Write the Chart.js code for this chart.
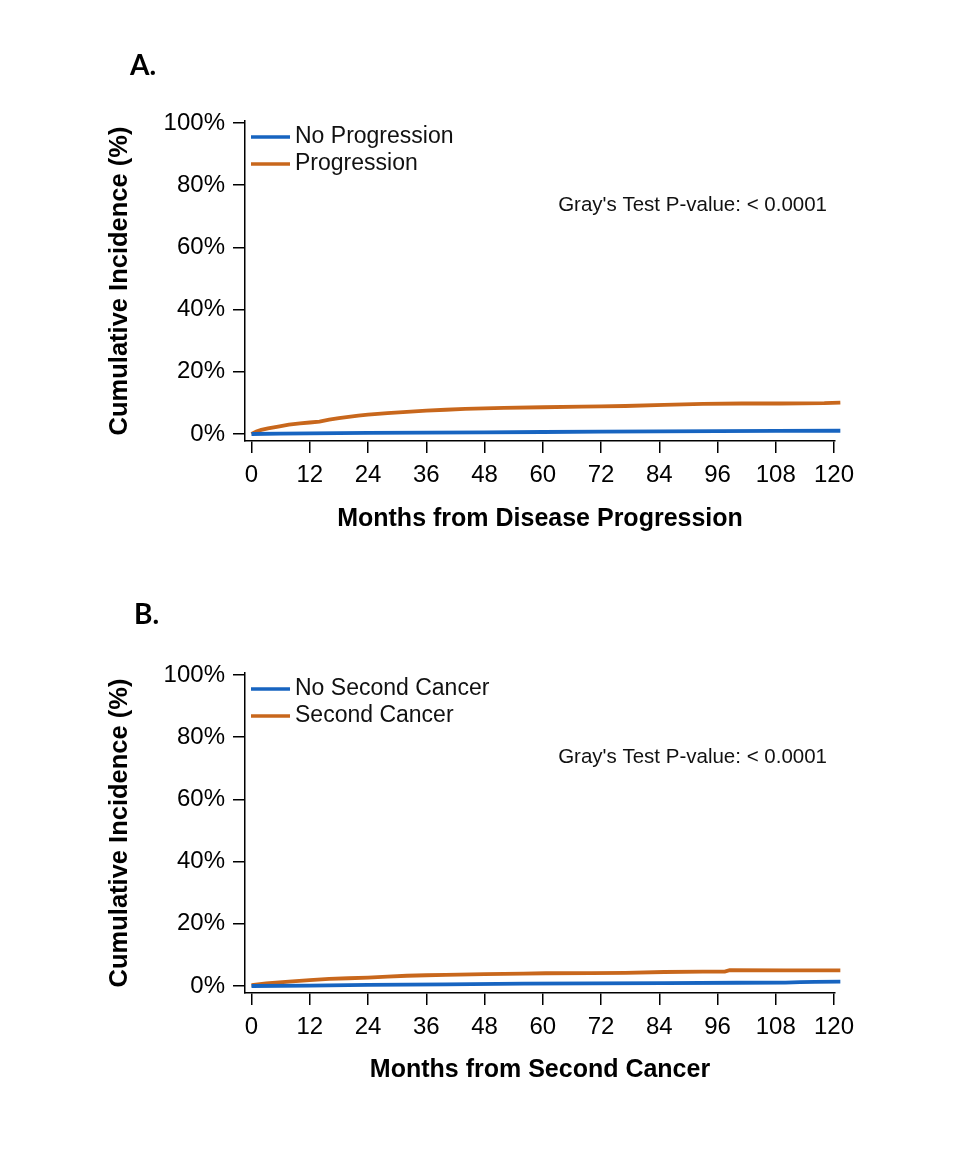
<!DOCTYPE html>
<html>
<head>
<meta charset="utf-8">
<title>Cumulative Incidence</title>
<script src="https://cdn.jsdelivr.net/npm/chart.js@4.4.0/dist/chart.umd.min.js"></script>
<style>
  body { margin: 0; background: #fff; width: 960px; height: 1152px; position: relative; overflow: hidden; }
  canvas { position: absolute; left: 0; }
  .panel { position: absolute; font: bold 28px Lato, "Open Sans", sans-serif; line-height: 30px; color: #000; }
</style>
</head>
<body>
<canvas id="chartA" width="960" height="560" style="top:0"></canvas>
<canvas id="chartB" width="960" height="592" style="top:560px"></canvas>
<div class="panel" style="left:130px;top:49px">A.</div>
<div class="panel" style="left:134px;top:598px">B.</div>
<script>
const xTicks = [0, 12, 24, 36, 48, 60, 72, 84, 96, 108, 120];
const yTicks = [0, 20, 40, 60, 80, 100];

// panel A
const monthsNoProg = [0, 6, 12, 24, 36, 48, 60, 72, 84, 96, 108, 121.3];
const incNoProg    = [0, 0.1, 0.2, 0.35, 0.45, 0.55, 0.65, 0.75, 0.85, 0.95, 1.0, 1.05];
const monthsProg = [0, 1, 2, 3.4, 5.5, 7.7, 10, 12, 14, 16, 18, 20, 22, 24, 28, 32, 36, 40, 44, 52, 60, 68, 72, 77, 85, 93, 101, 109, 118, 121.3];
const incProg    = [0, 0.8, 1.3, 1.8, 2.4, 3.0, 3.4, 3.7, 4.0, 4.6, 5.1, 5.5, 5.9, 6.2, 6.7, 7.1, 7.5, 7.8, 8.1, 8.4, 8.6, 8.8, 8.9, 9.0, 9.35, 9.7, 9.8, 9.8, 9.9, 10.1];

// panel B
const monthsNoSecond = [0, 12, 24, 40, 56, 70, 85, 100, 110, 113, 116, 121.3];
const incNoSecond    = [0, 0.15, 0.35, 0.55, 0.75, 0.85, 0.95, 1.05, 1.1, 1.25, 1.35, 1.4];
const monthsSecond = [0, 3, 7.7, 12, 16, 20, 24, 28, 32, 36, 40, 48, 56, 60.6, 70, 77, 85, 93, 97.5, 98.5, 110, 121.3];
const incSecond    = [0.3, 0.8, 1.4, 1.9, 2.3, 2.5, 2.7, 3.0, 3.3, 3.45, 3.6, 3.8, 4.0, 4.1, 4.15, 4.2, 4.5, 4.6, 4.65, 5.1, 5.05, 5.0];

const BLUE = '#1764c0';
const ORANGE = '#c8671c';
const FONT = '"Liberation Sans", Arial, sans-serif';

function pts(xs, ys) {
  return xs.map((x, i) => ({ x: x, y: ys[i] }));
}

const notePlugin = {
  id: 'notes',
  afterDraw(chart, args, opts) {
    const ctx = chart.ctx;
    const a = chart.chartArea;
    ctx.save();
    ctx.font = '23px ' + FONT;
    ctx.textBaseline = 'middle';
    chart.data.datasets.forEach((ds, i) => {
      const y = a.top + 16 + i * 27;
      ctx.strokeStyle = ds.borderColor;
      ctx.lineWidth = 3.5;
      ctx.beginPath();
      ctx.moveTo(a.left + 6, y);
      ctx.lineTo(a.left + 45, y);
      ctx.stroke();
      ctx.fillStyle = '#111';
      ctx.fillText(ds.label, a.left + 50, y);
    });
    ctx.font = '20.5px ' + FONT;
    ctx.textAlign = 'right';
    ctx.fillStyle = '#111';
    ctx.fillText(opts.text, a.right - 8, a.top + 84);
    ctx.restore();
  }
};

function makeChart(id, datasets, xTitle, padTop, xHeight, xTitlePad) {
  const ctx = document.getElementById(id).getContext('2d');
  return new Chart(ctx, {
    type: 'line',
    data: { datasets: datasets },
    plugins: [notePlugin],
    options: {
      responsive: false,
      animation: false,
      devicePixelRatio: 1,
      layout: { padding: { top: padTop, right: 125, left: 0, bottom: 0 } },
      elements: { point: { radius: 0 }, line: { borderWidth: 3.8, tension: 0 } },
      plugins: {
        legend: { display: false },
        tooltip: { enabled: false },
        notes: { text: "Gray's Test P-value: < 0.0001" }
      },
      scales: {
        x: {
          type: 'linear',
          min: -1.34,
          max: 120.2,
          afterBuildTicks: s => { s.ticks = xTicks.map(v => ({ value: v })); },
          afterFit: s => { s.height = xHeight; },
          grid: { drawOnChartArea: false, drawTicks: true, tickLength: 12, color: '#000', lineWidth: 1.5 },
          border: { display: true, color: '#000', width: 1.5 },
          ticks: { color: '#000', font: { family: FONT, size: 24 }, padding: 8, maxRotation: 0 },
          title: { display: true, text: xTitle, color: '#000', font: { family: FONT, size: 25, weight: 'bold' }, padding: { top: 0, bottom: xTitlePad } }
        },
        y: {
          type: 'linear',
          min: -2.25,
          max: 100.64,
          afterBuildTicks: s => { s.ticks = yTicks.map(v => ({ value: v })); },
          afterFit: s => { s.width = 245; },
          grid: { drawOnChartArea: false, drawTicks: true, tickLength: 12, color: '#000', lineWidth: 1.5 },
          border: { display: true, color: '#000', width: 1.5 },
          ticks: { color: '#000', font: { family: FONT, size: 24 }, padding: 8, callback: v => v + '%' },
          title: { display: true, text: 'Cumulative Incidence (%)', color: '#000', font: { family: FONT, size: 25.5, weight: 'bold' }, padding: { top: 105, bottom: 0 } }
        }
      }
    }
  });
}

makeChart('chartA', [
  { label: 'No Progression', data: pts(monthsNoProg, incNoProg), borderColor: BLUE, backgroundColor: BLUE, clip: false },
  { label: 'Progression', data: pts(monthsProg, incProg), borderColor: ORANGE, backgroundColor: ORANGE, clip: false }
], 'Months from Disease Progression', 121, 119, 26);

makeChart('chartB', [
  { label: 'No Second Cancer', data: pts(monthsNoSecond, incNoSecond), borderColor: BLUE, backgroundColor: BLUE, clip: false },
  { label: 'Second Cancer', data: pts(monthsSecond, incSecond), borderColor: ORANGE, backgroundColor: ORANGE, clip: false }
], 'Months from Second Cancer', 113, 159, 67);
</script>
</body>
</html>
